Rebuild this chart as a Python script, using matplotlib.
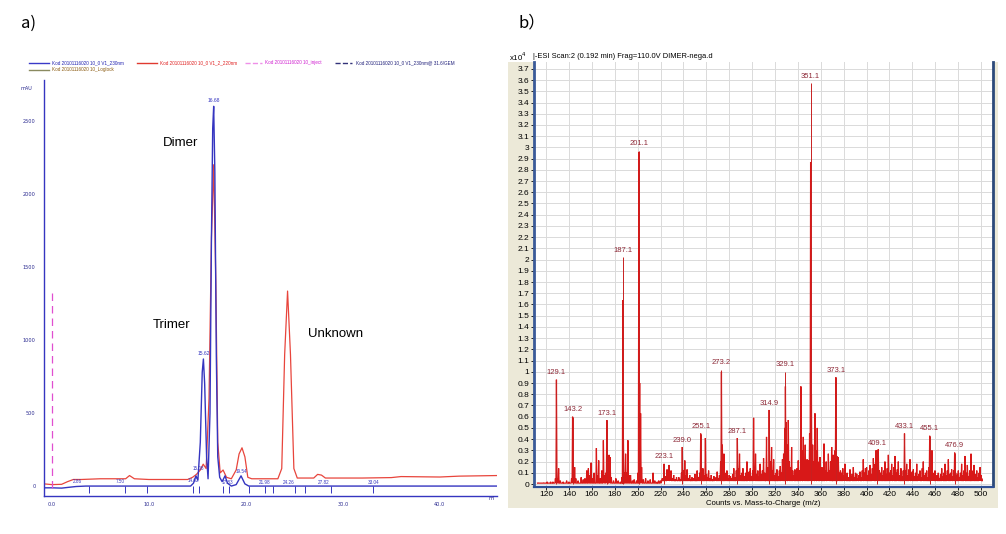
import numpy as np
import matplotlib
matplotlib.use("Agg")
import matplotlib.pyplot as plt
from matplotlib.lines import Line2D
from matplotlib.patches import Rectangle
from matplotlib import font_manager

# ---------------- data: panel a (HPLC chromatogram) ----------------
blue_t = [-0.82, 0.0, 1.0, 1.8, 2.5, 3.5, 14.3, 14.6, 14.85, 15.05, 15.3, 15.5, 15.62, 15.75,
          15.95, 16.1, 16.3, 16.45, 16.58, 16.68, 16.8, 16.95, 17.1, 17.3, 17.55, 17.85, 18.1,
          18.5, 19.0, 19.5, 19.9, 20.3, 45.9]
blue_y = [-12, -12, -14, -8, -3, 0, 0, 20, 70, 40, 300, 780, 870, 700,
          200, 50, 500, 1700, 2450, 2600, 2150, 900, 200, 60, 30, 70, 20,
          0, 10, 70, 15, 0, 0]

red_t = [-0.82, 0.0, 1.0, 1.6, 2.2, 3.0, 5.0, 7.6, 8.0, 8.5, 10.0, 14.0, 14.5, 14.9, 15.3,
         15.6, 15.9, 16.2, 16.45, 16.68, 16.9, 17.1, 17.35, 17.65, 18.0, 18.5, 19.0, 19.3,
         19.6, 19.9, 20.2, 20.6, 23.3, 23.7, 24.0, 24.3, 24.6, 24.95, 25.3, 27.0,
         27.4, 27.8, 28.2, 32.0, 35.0, 36.0, 40.0, 42.0, 45.9]
red_y = [15, 10, 12, 30, 45, 45, 50, 50, 72, 50, 45, 45, 60, 80, 110,
         150, 120, 600, 1700, 2200, 1400, 300, 90, 110, 60, 50, 110, 220,
         262, 200, 60, 50, 50, 120, 900, 1335, 900, 120, 55, 55,
         80, 75, 55, 55, 58, 65, 62, 68, 72]

inject_t = 0.0
inject_top = 1350

chrom_peak_t = [15.62, 16.68]
chrom_peak_y = [870, 2600]
chrom_peak_txt = ["15.62", "16.68"]

event_t = [3.8, 7.5, 9.8, 14.5, 15.2, 17.6, 18.3, 20.3, 22.0, 22.8, 25.1, 26.1, 28.8, 33.1]

base_lab_t = [2.6, 7.0, 14.6, 15.1, 18.1, 19.6, 21.9, 24.4, 28.0, 33.2]
base_lab_y = [30, 30, 40, 120, 25, 100, 25, 25, 25, 25]
base_lab_txt = ["2.86", "7.50", "14.62", "15.08", "17.83", "19.54", "21.98", "24.26", "27.82", "33.04"]

chrom_xticks = [0, 10, 20, 30, 40]
chrom_xlabels = ["0.0", "10.0", "20.0", "30.0", "40.0"]
chrom_yticks = [0, 500, 1000, 1500, 2000, 2500]

legend_txt = ["Kod 20101116020 10_0 V1_230nm", "Kod 20101116020 10_0 V1_2_220nm",
              "Kod 20101116020 10_inject", "Kod 20101116020 10_0 V1_230nm@ 31.6/GEM",
              "Kod 20101116020 10_Loglock"]

# ---------------- data: panel b (ESI mass spectrum, x10^4 counts) ----------------
label_mz = [129.1, 143.2, 173.1, 187.1, 201.1, 223.1, 239.0, 255.1, 273.2, 287.1,
            314.9, 329.1, 351.1, 373.1, 409.1, 433.1, 455.1, 476.9]
label_int = [0.93, 0.60, 0.57, 2.02, 2.97, 0.18, 0.33, 0.45, 1.02, 0.41,
             0.66, 1.00, 3.57, 0.95, 0.30, 0.45, 0.43, 0.28]
label_txt = ["129.1", "143.2", "173.1", "187.1", "201.1", "223.1", "239.0", "255.1", "273.2",
             "287.1", "314.9", "329.1", "351.1", "373.1", "409.1", "433.1", "455.1", "476.9"]

prof_mz = [113, 118, 121, 124, 126, 128.2, 129.1, 130.0, 131.0, 132.5, 135, 138, 140, 142.3,
           143.2, 144.0, 145.0, 146.0, 148, 150.7, 152.5, 154, 155.6, 157, 158.2, 159.4, 160.5,
           162.0, 164.0, 165.0, 166.0, 167.5, 168.7, 170.1, 171, 172.2, 173.1, 174, 175.1, 176.0,
           177, 179, 181, 183, 185, 186.4, 187.1, 187.6, 188.3, 189.5, 190.5, 191.5, 192.5, 193.8,
           195.5, 197, 199, 200.3, 201.1, 201.8, 202.6, 203.5, 205, 207, 209, 211, 213.5, 215,
           217, 218.4, 220, 221.5,
           223.1, 224.3, 225.7, 226.6, 227.5, 228.3, 229.2, 230.3, 231.5, 232.7, 234, 235, 236,
           237.2, 238.3, 239.0, 240.0, 241.2, 242.2, 243.2, 244.3, 245.5, 246.5, 247.5, 248.7,
           250, 251, 252, 253.2, 254.3, 255.1, 256, 257, 258.1, 259.2, 260.2, 261, 262, 263.2,
           264.3, 265.5, 266.6, 267.6, 268.5, 269.5, 270.5, 271.5, 272.5, 273.2, 274.0, 275.4,
           276.4, 277.2, 278, 279, 280, 281, 282, 283, 284, 285, 286.2, 287.1, 288, 289, 290,
           291, 292, 293, 294.3, 295.5, 296.5, 297.4, 298.4, 299.5, 300.5, 301.3, 302.2, 303,
           304, 305, 306, 307, 308, 309, 310, 311, 312.6, 313.7, 314.9, 315.8, 317, 318, 318.8,
           320, 321, 321.7, 323, 323.8, 324.6, 325.6, 326.5, 327.5, 328.5, 329.1, 329.6, 330.5,
           331.6, 332.5, 333.5, 334.5, 335.5, 336.4, 337.4, 338.4, 339.2, 340.3, 341.3, 342.6,
           343.5, 344.7, 345.6, 346.4, 347.2, 348, 349, 350.2, 351.1, 351.8, 352.9, 353.8, 354.9,
           355.8, 356.9, 357.8, 358.6, 359.3, 360.2, 361, 362, 362.8, 363.8, 364.7, 365.7, 366.6,
           367.5, 368.5, 369.5, 370.9, 371.7, 372.5, 373.1, 374, 375.3, 376.2, 377.2, 378.2,
           379.2, 380.1, 381.1, 382, 383, 384, 385.5, 386.5, 387.4, 388.4, 389.4, 390.4, 391.4,
           392.3, 393.3, 394.2, 395.2, 396.2, 397.1, 398.1, 399, 400, 401, 402, 403, 404, 405,
           405.9, 406.8, 407.5, 408.2, 409.1, 410.2, 411.2, 412.2, 413.2, 414.2, 415, 416, 417,
           418, 419, 420, 421, 421.9, 422.9, 423.8, 424.8, 425.8, 426.8, 427.7, 428.7, 430, 431,
           432, 433.1, 434, 435, 436, 437, 437.9, 438.9, 439.8, 440.8, 441.8, 442.8, 443.8,
           444.8, 445.7, 446.6, 447.6, 448.6, 449.5, 450.5, 451.5, 452.5, 453.5, 454.5, 455.1,
           456.2, 457.1, 458, 458.9, 459.7, 460.7, 461.6, 462.6, 463.6, 464.6, 465.6, 466.5,
           467.5, 468.5, 469.5, 470.5, 471.4, 472.4, 473.4, 474.3, 475.3, 476.2, 476.9, 477.8,
           478.6, 479.4, 480.1, 481.1, 482, 483, 484, 485, 485.9, 487, 488, 489, 490, 491.2,
           492.2, 493, 493.8, 494.8, 495.5, 496.2, 497.2, 498.2, 499.1, 500, 500.6]
prof_int = [0.01, 0.01, 0.02, 0.02, 0.02, 0.05, 0.93, 0.05, 0.14, 0.03, 0.02, 0.03, 0.02, 0.05,
            0.60, 0.08, 0.15, 0.05, 0.03, 0.06, 0.04, 0.05, 0.12, 0.14, 0.08, 0.19, 0.05,
            0.10, 0.32, 0.08, 0.21, 0.05, 0.12, 0.39, 0.08, 0.10, 0.57, 0.10, 0.26, 0.24,
            0.06, 0.03, 0.05, 0.03, 0.02, 0.06, 1.64, 0.40, 0.10, 0.27, 0.10, 0.39, 0.08, 0.08,
            0.03, 0.04, 0.03, 0.10, 2.96, 0.90, 0.63, 0.15, 0.04, 0.05, 0.03, 0.04, 0.10, 0.03,
            0.02, 0.03, 0.03, 0.05,
            0.18, 0.07, 0.13, 0.06, 0.17, 0.07, 0.12, 0.05, 0.08, 0.04, 0.06, 0.03, 0.06,
            0.04, 0.10, 0.33, 0.12, 0.21, 0.08, 0.13, 0.05, 0.08, 0.04, 0.06, 0.05,
            0.09, 0.04, 0.12, 0.06, 0.10, 0.45, 0.10, 0.14, 0.08, 0.41, 0.09, 0.06, 0.12, 0.05,
            0.08, 0.04, 0.07, 0.05, 0.06, 0.11, 0.05, 0.08, 0.20, 1.00, 0.35, 0.27,
            0.10, 0.06, 0.12, 0.05, 0.08, 0.07, 0.05, 0.09, 0.14, 0.06, 0.12, 0.41, 0.14, 0.27, 0.08,
            0.10, 0.14, 0.07, 0.10, 0.20, 0.08, 0.11, 0.14, 0.07, 0.12, 0.59, 0.15, 0.27,
            0.09, 0.12, 0.07, 0.18, 0.09, 0.12, 0.23, 0.10, 0.42, 0.15, 0.66, 0.20, 0.33, 0.12, 0.22,
            0.08, 0.10, 0.13, 0.07, 0.12, 0.16, 0.10, 0.22, 0.27, 0.50, 0.87, 0.55, 0.35,
            0.57, 0.20, 0.15, 0.33, 0.12, 0.08, 0.13, 0.09, 0.14, 0.21, 0.12, 0.87,
            0.30, 0.42, 0.20, 0.35, 0.15, 0.22, 0.21, 0.45, 2.87, 0.80, 0.35, 0.20, 0.63,
            0.30, 0.50, 0.18, 0.20, 0.24, 0.10, 0.15, 0.12, 0.36, 0.12, 0.20, 0.10, 0.27,
            0.12, 0.20, 0.33, 0.26, 0.15, 0.30, 0.95, 0.25, 0.24, 0.10, 0.12, 0.10,
            0.14, 0.08, 0.18, 0.07, 0.10, 0.06, 0.13, 0.07, 0.09, 0.15, 0.06, 0.10, 0.09,
            0.05, 0.08, 0.11, 0.06, 0.12, 0.22, 0.10, 0.14, 0.15, 0.08, 0.12, 0.17, 0.09, 0.14,
            0.23, 0.10, 0.18, 0.30, 0.30, 0.31, 0.12, 0.10, 0.15, 0.08, 0.12, 0.20, 0.09,
            0.14, 0.26, 0.10, 0.12, 0.18, 0.08, 0.15, 0.25, 0.10, 0.13, 0.20, 0.08, 0.14, 0.07,
            0.12, 0.45, 0.12, 0.18, 0.08, 0.13, 0.22, 0.09, 0.11, 0.13, 0.07, 0.10, 0.18,
            0.07, 0.09, 0.12, 0.06, 0.14, 0.20, 0.08, 0.10, 0.12, 0.06, 0.15, 0.43,
            0.12, 0.30, 0.08, 0.10, 0.12, 0.06, 0.08, 0.10, 0.05, 0.09, 0.14, 0.07,
            0.10, 0.18, 0.08, 0.12, 0.22, 0.09, 0.10, 0.13, 0.07, 0.12, 0.28, 0.10,
            0.08, 0.09, 0.12, 0.06, 0.10, 0.18, 0.08, 0.12, 0.25, 0.10, 0.17, 0.07, 0.12, 0.27,
            0.10, 0.12, 0.17, 0.06, 0.09, 0.12, 0.06, 0.10, 0.15, 0.08, 0.05]

ms_xticks = list(range(120, 501, 20))
ms_yticks = [round(0.1 * i, 1) for i in range(0, 38)]

# ---------------- figure ----------------
W, H = 1006, 534
fig = plt.figure(figsize=(W / 100, H / 100), dpi=100)
fig.patch.set_facecolor("white")

names = {f.name for f in font_manager.fontManager.ttflist}
NARROW = "Liberation Sans Narrow" if "Liberation Sans Narrow" in names else "Liberation Sans"
CJK = "Noto Sans CJK SC"


def fx(px):
    return px / W


def fy(py):
    return 1 - py / H


# panel letters
fig.text(fx(21), fy(23), "a)", family=[CJK, "DejaVu Sans"], fontsize=12, va="center", ha="left")
fig.text(fx(519), fy(23), "b）", family=[CJK, "DejaVu Sans"], fontsize=12, va="center", ha="left")

# ================= panel a =================
BLUE = "#3535c0"
axA = fig.add_axes([fx(44), fy(496), fx(497 - 44), (496 - 80) / H])
axA.set_xlim(-0.82, 45.9)
axA.set_ylim(-68, 2780)
for s in ["top", "right"]:
    axA.spines[s].set_visible(False)
for s in ["left", "bottom"]:
    axA.spines[s].set_color(BLUE)
    axA.spines[s].set_linewidth(1.0)

axA.plot(red_t, red_y, color="#e8453c", lw=0.9, zorder=2)
axA.plot(blue_t, blue_y, color=BLUE, lw=1.0, zorder=3)
axA.plot([inject_t, inject_t], [-10, inject_top], color="#e04fd0", lw=0.9,
         ls=(0, (6, 4)), zorder=4)
axA.vlines(event_t, -45, 0, color=BLUE, lw=0.7, zorder=3)

for t, y, s in zip(chrom_peak_t, chrom_peak_y, chrom_peak_txt):
    axA.text(t, y + 20, s, fontsize=3.6, color=BLUE, ha="center", va="bottom", family=NARROW)
for t, y, s in zip(base_lab_t, base_lab_y, base_lab_txt):
    axA.text(t, y, s, fontsize=3.3, color=BLUE, ha="center", va="center", family=NARROW)

axA.set_xticks(chrom_xticks)
axA.set_xticklabels(chrom_xlabels)
axA.set_yticks(chrom_yticks)
axA.tick_params(axis="both", length=0, labelsize=3.6, labelcolor="#2a2a90")
axA.tick_params(axis="y", pad=6)
axA.tick_params(axis="x", pad=4)
axA.text(45.4, -68, "ml", transform=axA.transData, fontsize=3.6, color="#2a2a90",
         ha="center", va="top")
axA.text(-2.0, 2720, "mAU", fontsize=3.6, color="#2a2a90", ha="right", va="center")

# annotations
fig.text(fx(181), fy(143), "Dimer", family=[NARROW, "DejaVu Sans"], fontsize=9.5, ha="center", va="center")
fig.text(fx(172), fy(325), "Trimer", family=[NARROW, "DejaVu Sans"], fontsize=9.5, ha="center", va="center")
fig.text(fx(336), fy(334), "Unknown", family=[NARROW, "DejaVu Sans"], fontsize=9.5, ha="center", va="center")

# chromatogram legend (top)
leg_specs = [
    (29, 49, 52, 62.5, "#3a3ac8", "-", "#2020b0"),
    (137, 157, 160, 62.5, "#e03a30", "-", "#e02020"),
    (245, 262, 265, 62.5, "#ef8fe8", "--", "#d020d0"),
    (335, 352, 356, 62.5, "#33337a", "--", "#20207a"),
    (29, 49, 52, 69.5, "#8a8a60", "-", "#8a5a10"),
]
for (x0, x1, xt, yy, lc, ls, tc), txt in zip(leg_specs, legend_txt):
    fig.add_artist(Line2D([fx(x0), fx(x1)], [fy(yy), fy(yy)], transform=fig.transFigure,
                          color=lc, lw=1.0, ls=ls))
    fig.text(fx(xt), fy(yy), txt, fontsize=3.3, color=tc, ha="left", va="center",
             family=NARROW)

# ================= panel b =================
bg = Rectangle((fx(508), fy(508)), fx(998 - 508), (508 - 62) / H,
               transform=fig.transFigure, facecolor="#ECE9D8", edgecolor="none", zorder=-10)
fig.add_artist(bg)
axB = fig.add_axes([fx(534), fy(486.5), fx(993 - 534), (486.5 - 62) / H])
axB.set_zorder(5)
axB.set_facecolor("white")
axB.set_xlim(109.5, 510.4)
axB.set_ylim(-0.022, 3.761)
axB.set_xticks(ms_xticks)
axB.set_yticks(ms_yticks)
axB.set_yticklabels([f"{v:g}" for v in ms_yticks])
axB.grid(True, color="#dadada", lw=0.7)
axB.set_axisbelow(True)
axB.spines["top"].set_visible(False)
axB.spines["left"].set_color("#3a5a98")
axB.spines["left"].set_linewidth(2.0)
axB.spines["bottom"].set_color("#2d4f96")
axB.spines["bottom"].set_linewidth(1.6)
axB.spines["right"].set_color("#2d4a7a")
axB.spines["right"].set_linewidth(2.0)
axB.tick_params(axis="both", length=2.5, width=0.7, labelsize=6.0, pad=1, color="#222222")
for lab in axB.get_xticklabels() + axB.get_yticklabels():
    lab.set_family(NARROW)

# profile spectrum built from the peak list (narrow spikes)
hw = 0.42
vx, vy = [], []
for m, h in zip(prof_mz, prof_int):
    base = 0.008 if m < 221 else 0.03
    vx += [m - hw, m, m + hw]
    vy += [base, h, base]
axB.plot(vx, vy, color="#d81818", lw=0.9, zorder=3, solid_joinstyle="miter")
axB.vlines(label_mz, 0, label_int, color="#c82020", lw=0.7, zorder=3)

for m, h, s in zip(label_mz, label_int, label_txt):
    axB.text(m, h + 0.03, s, fontsize=5.5, color="#8e2a38", ha="center", va="bottom",
             family=NARROW, zorder=4)

axB.set_xlabel("Counts vs. Mass-to-Charge (m/z)", fontsize=5.6, family=NARROW, labelpad=1)

fig.text(fx(509), fy(57), "x10$^{4}$", fontsize=5.6, family=NARROW, ha="left", va="center")
fig.text(fx(533), fy(57), "|-ESI Scan:2 (0.192 min) Frag=110.0V DIMER-nega.d", fontsize=5.4,
         family=NARROW, ha="left", va="center")

fig.savefig("out.png", dpi=100, facecolor="white")
